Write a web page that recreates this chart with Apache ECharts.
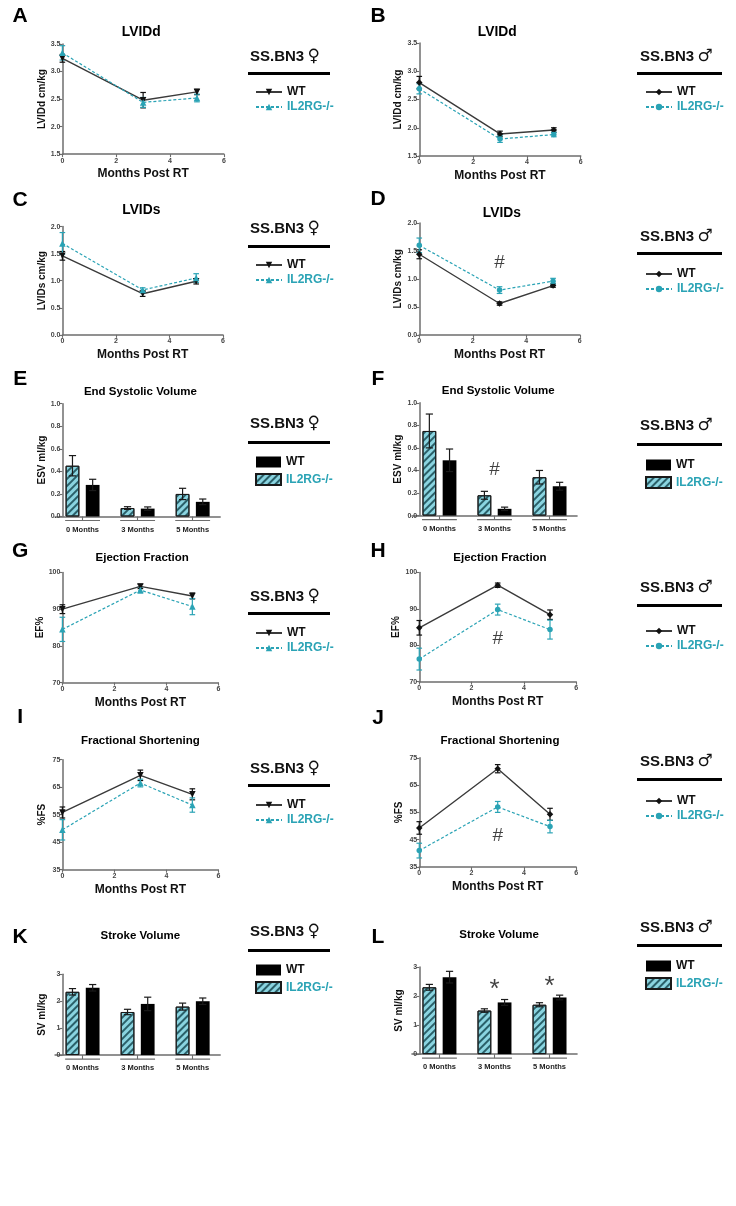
<!DOCTYPE html>
<html><head><meta charset="utf-8">
<script src="https://cdn.jsdelivr.net/npm/echarts@6/dist/echarts.min.js"></script>
<style>html,body{margin:0;padding:0;background:#fff}#c{width:736px;height:1206px}</style>
</head><body><div id="c"></div>
<script>
// ================= DATA =================
const monthsPostRT = [0, 3, 5];
const barCategories = ['0 Months', '3 Months', '5 Months'];
const seriesNames = ['WT', 'IL2RG-/-'];

// A  LVIDd female
const lviddFemaleWT = [3.24, 2.48, 2.63];
const lviddFemaleWTErr = [0.07, 0.14, 0.05];
const lviddFemaleKO = [3.34, 2.44, 2.52];
const lviddFemaleKOErr = [0.13, 0.09, 0.07];
// B  LVIDd male
const lviddMaleWT = [2.80, 1.89, 1.96];
const lviddMaleWTErr = [0.11, 0.05, 0.04];
const lviddMaleKO = [2.69, 1.80, 1.88];
const lviddMaleKOErr = [0.09, 0.06, 0.04];
// C  LVIDs female
const lvidsFemaleWT = [1.46, 0.76, 0.99];
const lvidsFemaleWTErr = [0.08, 0.05, 0.05];
const lvidsFemaleKO = [1.69, 0.83, 1.05];
const lvidsFemaleKOErr = [0.20, 0.04, 0.08];
// D  LVIDs male
const lvidsMaleWT = [1.44, 0.56, 0.88];
const lvidsMaleWTErr = [0.08, 0.03, 0.03];
const lvidsMaleKO = [1.60, 0.80, 0.96];
const lvidsMaleKOErr = [0.13, 0.06, 0.05];
// E  ESV female
const esvFemaleKO = [0.45, 0.075, 0.20];
const esvFemaleKOErr = [0.09, 0.012, 0.05];
const esvFemaleWT = [0.28, 0.07, 0.13];
const esvFemaleWTErr = [0.05, 0.015, 0.025];
// F  ESV male
const esvMaleKO = [0.75, 0.18, 0.34];
const esvMaleKOErr = [0.15, 0.035, 0.06];
const esvMaleWT = [0.49, 0.06, 0.26];
const esvMaleWTErr = [0.10, 0.015, 0.035];
// G  EF female
const efFemaleWT = [90.0, 96.2, 93.6];
const efFemaleWTErr = [1.2, 0.6, 0.8];
const efFemaleKO = [84.5, 95.2, 90.7];
const efFemaleKOErr = [3.3, 0.8, 2.2];
// H  EF male
const efMaleWT = [84.8, 96.5, 88.4];
const efMaleWTErr = [2.0, 0.6, 1.3];
const efMaleKO = [76.2, 89.8, 84.3];
const efMaleKOErr = [3.0, 1.5, 2.6];
// I  FS female
const fsFemaleWT = [55.8, 69.3, 62.4];
const fsFemaleWTErr = [2.0, 1.9, 2.0];
const fsFemaleKO = [49.5, 66.5, 58.5];
const fsFemaleKOErr = [3.7, 1.4, 2.6];
// J  FS male
const fsMaleWT = [49.3, 71.0, 54.3];
const fsMaleWTErr = [2.3, 1.5, 2.2];
const fsMaleKO = [41.0, 57.0, 49.8];
const fsMaleKOErr = [2.7, 2.0, 2.3];
// K  SV female
const svFemaleKO = [2.35, 1.60, 1.80];
const svFemaleKOErr = [0.12, 0.10, 0.13];
const svFemaleWT = [2.50, 1.90, 2.00];
const svFemaleWTErr = [0.12, 0.25, 0.12];
// L  SV male
const svMaleKO = [2.30, 1.50, 1.70];
const svMaleKOErr = [0.10, 0.06, 0.07];
const svMaleWT = [2.65, 1.78, 1.95];
const svMaleWTErr = [0.20, 0.10, 0.08];

// significance marks [text, x (month or category index), y value]
const lvidsMaleMarks = [['#', 3, 1.28]];
const esvMaleMarks = [['#', 1, 0.41]];
const efMaleMarks = [['#', 3, 81.7]];
const fsMaleMarks = [['#', 3, 46.3]];
const svMaleMarks = [['*', 1, 2.2], ['*', 2, 2.32]];

// axis scales [min, max, interval, decimals]
const lineXScale = [0, 6, 2];
const lviddYScale = [1.5, 3.5, 0.5, 1];
const lvidsYScale = [0, 2, 0.5, 1];
const esvYScale = [0, 1, 0.2, 1];
const efYScale = [70, 100, 10, 0];
const fsYScale = [35, 75, 10, 0];
const svYScale = [0, 3, 1, 0];

// ================= LAYOUT / STYLE =================
const S = 1 / 1.09;           // measured-units -> page pixels
const FONT = '"Liberation Sans", Arial, Helvetica, sans-serif';
const TEAL = '#2aa3b5';
const AXIS = '#6e6e6e';

// grid / letter / titlePos are in measured units (scaled by S); head / bar / legend in page pixels
const panels = [
  {id:'A', kind:'line', sex:'f', title:'LVIDd', titleSize:15, yName:'LVIDd cm/kg', yScale:lviddYScale,
   wt:lviddFemaleWT, wtErr:lviddFemaleWTErr, ko:lviddFemaleKO, koErr:lviddFemaleKOErr,
   grid:[68,48,176,120], letter:[22,18], titlePos:[154,35], head:[250,57], bar:[248,72,82], legend:[250,81]},
  {id:'B', kind:'line', sex:'m', title:'LVIDd', titleSize:15, yName:'LVIDd cm/kg', yScale:lviddYScale,
   wt:lviddMaleWT, wtErr:lviddMaleWTErr, ko:lviddMaleKO, koErr:lviddMaleKOErr,
   grid:[457,47,176,123], letter:[412,18], titlePos:[542,35], head:[640,57], bar:[637,72,85], legend:[640,81]},
  {id:'C', kind:'line', sex:'f', title:'LVIDs', titleSize:15, yName:'LVIDs cm/kg', yScale:lvidsYScale,
   wt:lvidsFemaleWT, wtErr:lvidsFemaleWTErr, ko:lvidsFemaleKO, koErr:lvidsFemaleKOErr,
   grid:[68,247,175,118], letter:[22,218], titlePos:[154,229], head:[250,229], bar:[248,245,82], legend:[250,254]},
  {id:'D', kind:'line', sex:'m', title:'LVIDs', titleSize:15, yName:'LVIDs cm/kg', yScale:lvidsYScale,
   wt:lvidsMaleWT, wtErr:lvidsMaleWTErr, ko:lvidsMaleKO, koErr:lvidsMaleKOErr, marks:lvidsMaleMarks,
   grid:[457,243,175,122], letter:[412,217], titlePos:[547,232], head:[640,237], bar:[637,252,85], legend:[640,263]},
  {id:'E', kind:'bar', sex:'f', title:'End Systolic Volume', titleSize:12.5, yName:'ESV ml/kg', yScale:esvYScale,
   wt:esvFemaleWT, wtErr:esvFemaleWTErr, ko:esvFemaleKO, koErr:esvFemaleKOErr,
   grid:[60,440,180,123], letter:[22,413], titlePos:[153,427], head:[250,424], bar:[248,441,82], legend:[250,451]},
  {id:'F', kind:'bar', sex:'m', title:'End Systolic Volume', titleSize:12.5, yName:'ESV ml/kg', yScale:esvYScale,
   wt:esvMaleWT, wtErr:esvMaleWTErr, ko:esvMaleKO, koErr:esvMaleKOErr, marks:esvMaleMarks,
   grid:[449,439,180,123], letter:[412,413], titlePos:[543,426], head:[640,426], bar:[637,443,85], legend:[640,454]},
  {id:'G', kind:'line', sex:'f', title:'Ejection Fraction', titleSize:12.5, yName:'EF%', yScale:efYScale,
   wt:efFemaleWT, wtErr:efFemaleWTErr, ko:efFemaleKO, koErr:efFemaleKOErr,
   grid:[68,624,170,120], letter:[22,601], titlePos:[155,608], head:[250,597], bar:[248,612,82], legend:[250,622]},
  {id:'H', kind:'line', sex:'m', title:'Ejection Fraction', titleSize:12.5, yName:'EF%', yScale:efYScale,
   wt:efMaleWT, wtErr:efMaleWTErr, ko:efMaleKO, koErr:efMaleKOErr, marks:efMaleMarks,
   grid:[457,624,171,119], letter:[412,601], titlePos:[545,608], head:[640,588], bar:[637,604,85], legend:[640,620]},
  {id:'I', kind:'line', sex:'f', title:'Fractional Shortening', titleSize:12.5, yName:'%FS', yScale:fsYScale,
   wt:fsFemaleWT, wtErr:fsFemaleWTErr, ko:fsFemaleKO, koErr:fsFemaleKOErr,
   grid:[68,828,170,120], letter:[22,782], titlePos:[153,807], head:[250,769], bar:[248,784,82], legend:[250,794]},
  {id:'J', kind:'line', sex:'m', title:'Fractional Shortening', titleSize:12.5, yName:'%FS', yScale:fsYScale,
   wt:fsMaleWT, wtErr:fsMaleWTErr, ko:fsMaleKO, koErr:fsMaleKOErr, marks:fsMaleMarks,
   grid:[457,826,171,119], letter:[412,783], titlePos:[545,808], head:[640,762], bar:[637,778,85], legend:[640,790]},
  {id:'K', kind:'bar', sex:'f', title:'Stroke Volume', titleSize:12.5, yName:'SV ml/kg', yScale:svYScale,
   wt:svFemaleWT, wtErr:svFemaleWTErr, ko:svFemaleKO, koErr:svFemaleKOErr,
   grid:[60,1062,180,88], letter:[22,1022], titlePos:[153,1020], head:[250,932], bar:[248,949,82], legend:[250,959]},
  {id:'L', kind:'bar', sex:'m', title:'Stroke Volume', titleSize:12.5, yName:'SV ml/kg', yScale:svYScale,
   wt:svMaleWT, wtErr:svMaleWTErr, ko:svMaleKO, koErr:svMaleKOErr, marks:svMaleMarks,
   grid:[449,1054,180,95], letter:[412,1022], titlePos:[544,1019], head:[640,928], bar:[637,944,85], legend:[640,955]}
];

const BAR_W = 15 * S, BAR_GAP = 7 * S;
const hatch = {color:'#8ad4e0', decal:{symbol:'rect', symbolSize:1, color:'rgba(25,75,85,0.85)', dashArrayX:[1,0], dashArrayY:[1.3,2.4], rotation:-Math.PI/4}, borderColor:'#1a1a1a', borderWidth:1};

function errSeries(gi, points, color, capHalf, dx, z) {
  return {
    type:'custom', xAxisIndex:gi, yAxisIndex:gi, clip:false, silent:true, z:z,
    data: points,
    renderItem: function (params, api) {
      const x = api.value(0), m = api.value(1), e = api.value(2);
      const top = api.coord([x, m + e]);
      const bot = api.coord([x, m - e]);
      const cx = top[0] + dx;
      const st = {stroke:color, lineWidth:1.2};
      return {type:'group', children:[
        {type:'line', shape:{x1:cx, y1:top[1], x2:cx, y2:bot[1]}, style:st},
        {type:'line', shape:{x1:cx-capHalf, y1:top[1], x2:cx+capHalf, y2:top[1]}, style:st},
        {type:'line', shape:{x1:cx-capHalf, y1:bot[1], x2:cx+capHalf, y2:bot[1]}, style:st}
      ]};
    }
  };
}

function bracketSeries(gi, yMin) {
  const half = 19 * S;
  return {
    type:'custom', xAxisIndex:gi, yAxisIndex:gi, clip:false, silent:true, z:3,
    data: barCategories.map((c, i) => [i, yMin]),
    renderItem: function (params, api) {
      const p = api.coord([api.value(0), api.value(1)]);
      return {type:'line', shape:{x1:p[0]-half, y1:p[1]+4, x2:p[0]+half, y2:p[1]+4}, style:{stroke:AXIS, lineWidth:1.2}};
    }
  };
}

const option = {animation:false, backgroundColor:'#fff', grid:[], xAxis:[], yAxis:[], series:[], legend:[], graphic:[]};
const txt = (text, x, y, font, fill, align) => ({type:'text', x:x, y:y, silent:true,
  style:{text:text, font:font, fill:fill||'#000', align:align||'center', verticalAlign:'middle', textAlign:align||'center', textVerticalAlign:'middle'}});

panels.forEach((p, gi) => {
  const [gl, gt, gw, gh] = p.grid.map(v => v * S);
  option.grid.push({left:gl, top:gt, width:gw, height:gh});
  const ys = p.yScale;
  const isBar = p.kind === 'bar';
  option.yAxis.push({
    type:'value', gridIndex:gi, min:ys[0], max:ys[1], interval:ys[2], offset: isBar ? -8 * S : 0,
    name:p.yName, nameLocation:'middle', nameRotate:90, nameGap:15,
    nameTextStyle:{fontFamily:FONT, fontWeight:'bold', fontSize:10, color:'#111'},
    axisLine:{show:true, lineStyle:{color:AXIS, width:1.5}},
    axisTick:{show:true, length:3, lineStyle:{color:AXIS, width:1.1}},
    axisLabel:{fontFamily:FONT, fontSize:7, fontWeight:'bold', color:'#444', margin:2,
      formatter: v => v.toFixed(ys[3])},
    splitLine:{show:false}
  });
  const names = seriesNames.map(n => n + '|' + p.id);
  if (!isBar) {
    option.xAxis.push({
      type:'value', gridIndex:gi, min:lineXScale[0], max:lineXScale[1], interval:lineXScale[2],
      name:'Months Post RT', nameLocation:'middle', nameGap:14,
      nameTextStyle:{fontFamily:FONT, fontWeight:'bold', fontSize:12, color:'#111'},
      axisLine:{show:true, onZero:false, lineStyle:{color:AXIS, width:1.5}},
      axisTick:{show:true, length:3, lineStyle:{color:AXIS, width:1.1}},
      axisLabel:{fontFamily:FONT, fontSize:7, fontWeight:'bold', color:'#444', margin:3},
      splitLine:{show:false}
    });
    const female = p.sex === 'f';
    option.series.push({
      type:'line', name:names[0], xAxisIndex:gi, yAxisIndex:gi, z:6,
      data: monthsPostRT.map((m, i) => [m, p.wt[i]]),
      symbol: female ? 'triangle' : 'diamond', symbolRotate: female ? 180 : 0, symbolSize: 6.5,
      lineStyle:{color:'#3a3a3a', width:1.4}, itemStyle:{color:'#111'}
    });
    option.series.push({
      type:'line', name:names[1], xAxisIndex:gi, yAxisIndex:gi, z:6,
      data: monthsPostRT.map((m, i) => [m, p.ko[i]]),
      symbol: female ? 'triangle' : 'circle', symbolSize: female ? 6.5 : 5.5,
      lineStyle:{color:TEAL, width:1.2, type:[3,2]}, itemStyle:{color:TEAL}
    });
    option.series.push(errSeries(gi, monthsPostRT.map((m, i) => [m, p.wt[i], p.wtErr[i]]), '#111', 2.8, 0, 5));
    option.series.push(errSeries(gi, monthsPostRT.map((m, i) => [m, p.ko[i], p.koErr[i]]), TEAL, 2.8, 0, 5));
    option.legend.push({
      orient:'vertical', left:p.legend[0], top:p.legend[1], itemGap:3, itemWidth:26, itemHeight:8,
      data:[{name:names[0], textStyle:{color:'#111'}}, {name:names[1], textStyle:{color:TEAL}}],
      formatter: n => n.split('|')[0],
      textStyle:{fontFamily:FONT, fontWeight:'bold', fontSize:12}, selectedMode:false
    });
  } else {
    option.xAxis.push({
      type:'category', gridIndex:gi, data:barCategories,
      axisLine:{show:true, onZero:false, lineStyle:{color:AXIS, width:1.5}},
      axisTick:{show:true, alignWithLabel:true, length:4, lineStyle:{color:AXIS, width:1.1}},
      axisLabel:{fontFamily:FONT, fontSize:7.5, fontWeight:'bold', color:'#222', margin:9}
    });
    option.series.push({
      type:'bar', name:names[1], xAxisIndex:gi, yAxisIndex:gi, z:2,
      data:p.ko, barWidth:BAR_W, barGap:(BAR_GAP / BAR_W * 100) + '%', itemStyle:hatch
    });
    option.series.push({
      type:'bar', name:names[0], xAxisIndex:gi, yAxisIndex:gi, z:2,
      data:p.wt, barWidth:BAR_W, itemStyle:{color:'#000'}
    });
    const off = (BAR_W + BAR_GAP) / 2;
    option.series.push(errSeries(gi, p.ko.map((v, i) => [i, v, p.koErr[i]]), '#1a1a1a', 3.6, -off, 4));
    option.series.push(errSeries(gi, p.wt.map((v, i) => [i, v, p.wtErr[i]]), '#1a1a1a', 3.6, off, 4));
    option.series.push(bracketSeries(gi, ys[0]));
    option.legend.push({
      orient:'vertical', left:p.legend[0], top:p.legend[1], itemGap:5, itemWidth:25, itemHeight:11,
      data:[{name:names[0], icon:'rect', textStyle:{color:'#111'}}, {name:names[1], icon:'rect', textStyle:{color:TEAL}}],
      formatter: n => n.split('|')[0],
      textStyle:{fontFamily:FONT, fontWeight:'bold', fontSize:12}, selectedMode:false
    });
  }
  // significance marks placed at data coordinates
  if (p.marks) {
    option.series.push({
      type:'scatter', xAxisIndex:gi, yAxisIndex:gi, silent:true, z:7, symbolSize:0,
      data: p.marks.map(m => ({value:[m[1], m[2]], label:{formatter:m[0], fontSize: m[0] === '*' ? 26 : 19}})),
      label:{show:true, position:'inside', color:'#111', fontFamily:FONT}
    });
  }
  // text
  option.graphic.push(txt(p.id, p.letter[0] * S, p.letter[1] * S, 'bold 21px ' + FONT));
  option.graphic.push(txt(p.title, p.titlePos[0] * S, p.titlePos[1] * S, 'bold ' + (p.titleSize * S).toFixed(1) + 'px ' + FONT));
  option.graphic.push({type:'text', x:p.head[0], y:p.head[1], silent:true,
    style:{text:'{a|SS.BN3} {b|' + (p.sex === 'f' ? '\u2640' : '\u2642') + '}', verticalAlign:'middle', textVerticalAlign:'middle',
      rich:{a:{font:'bold 15px ' + FONT, fill:'#111'}, b:{font:'17px "DejaVu Sans"', fill:'#111'}}}});
  option.graphic.push({type:'rect', silent:true, shape:{x:p.bar[0], y:p.bar[1], width:p.bar[2], height:3}, style:{fill:'#000'}});
});

const chart = echarts.init(document.getElementById('c'), null, {renderer:'canvas'});
chart.setOption(option);
</script>
</body></html>
